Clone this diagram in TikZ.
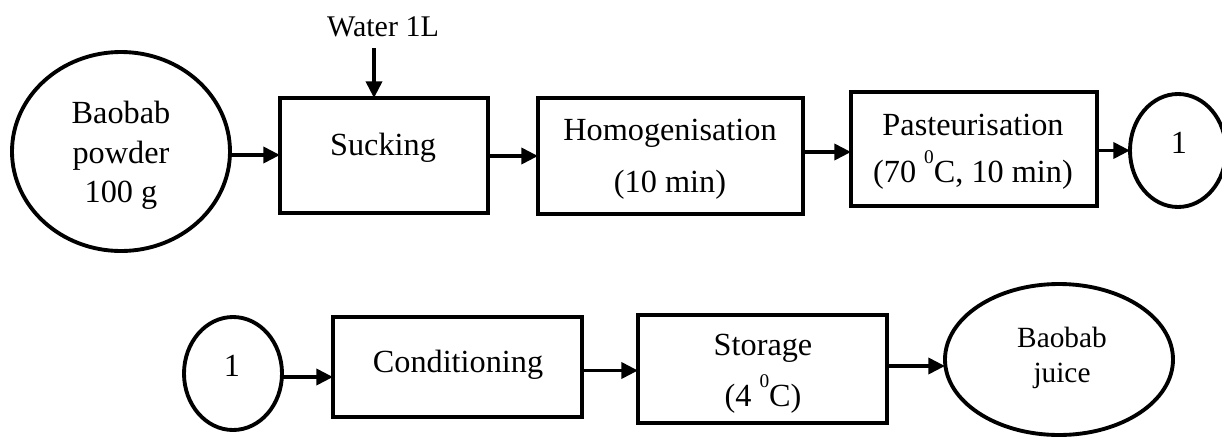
\documentclass[tikz,border=0pt]{standalone}
\usepackage{fontspec}
\setmainfont{Liberation Serif}
\usetikzlibrary{shapes.geometric,arrows.meta}
% raised "0" used for the degree sign
\newcommand\degz{\raisebox{0.58em}{\fontsize{14.5}{14.5}\selectfont 0}}
\begin{document}
\begin{tikzpicture}[x=0.75pt,y=-0.75pt,
  box/.style={draw,line width=2.9pt,rectangle,inner sep=0pt,outer sep=0pt},
  oval/.style={draw,line width=2.9pt,ellipse,inner sep=0pt,outer sep=0pt},
  lbl/.style={inner sep=0pt,anchor=base,font=\fontsize{24.2}{30}\selectfont},
  small/.style={lbl,font=\fontsize{22.5}{27}\selectfont},
  juicefont/.style={lbl,font=\fontsize{22}{26}\selectfont},
  arr/.style={line width=2.8pt,-{Triangle[length=12.5pt,width=12pt]}}]
\useasboundingbox (0,0) rectangle (1222,436);
\clip (0,0) rectangle (1222,436);

% ---- first line of the process ----
\node[oval,minimum width=218*0.75pt,minimum height=199*0.75pt] (powder) at (121,151.5) {};
\node[lbl] (powderA) at (121,123) {Baobab};
\node[lbl] (powderB) at (121,163) {powder};
\node[lbl] (powderC) at (121,202) {100 g};

\node[box,minimum width=208*0.75pt,minimum height=115*0.75pt] (suck) at (384,155.5) {};
\node[lbl] (suckT) at (383,155) {Sucking};

\node[small] (water) at (383,36) {Water 1L};
\coordinate (wtop) at (374,48);

\node[box,minimum width=265*0.75pt,minimum height=116*0.75pt] (homo) at (670.5,156) {};
\node[lbl] (homoA) at (670,140) {Homogenisation};
\node[lbl] (homoB) at (670,192) {(10 min)};

\node[box,minimum width=246*0.75pt,minimum height=114*0.75pt] (past) at (974,149) {};
\node[lbl] (pastA) at (973,135) {Pasteurisation};
\node[lbl] (pastB) at (973,182) {(70 \degz C, 10 min)};

\node[oval,minimum width=96*0.75pt,minimum height=113*0.75pt] (linkA) at (1178,150.5) {};
\node[lbl] (linkAT) at (1179,153) {1};

% ---- second line of the process ----
\node[oval,minimum width=98*0.75pt,minimum height=113*0.75pt] (linkB) at (233,373.5) {};
\node[lbl] (linkBT) at (232,376) {1};

\node[box,minimum width=249*0.75pt,minimum height=100*0.75pt] (cond) at (457.5,367) {};
\node[lbl] (condT) at (458,372) {Conditioning};

\node[box,minimum width=249*0.75pt,minimum height=108*0.75pt] (store) at (762.5,369) {};
\node[lbl] (storeA) at (763,355) {Storage};
\node[lbl] (storeB) at (763,406) {(4 \degz C)};

\node[oval,minimum width=228*0.75pt,minimum height=151*0.75pt] (juice) at (1059,359.5) {};
\node[juicefont] (juiceA) at (1062,347) {Baobab};
\node[juicefont] (juiceB) at (1062,382) {juice};

% ---- connectors ----
\draw[arr] (wtop) -- (wtop |- suck.north);
\draw[arr] (powder.east |- 0,155) -- (suck.west |- 0,155);
\draw[arr] (suck.east |- 0,156) -- (homo.west |- 0,156);
\draw[arr] (homo.east |- 0,152) -- (past.west |- 0,152);
\draw[arr] (past.east |- 0,150.5) -- (linkA.west |- 0,150.5);
\draw[arr] (linkB.east |- 0,377) -- (cond.west |- 0,377);
\draw[arr] (cond.east |- 0,370.5) -- (store.west |- 0,370.5);
\draw[arr] (store.east |- 0,366) -- (juice.west |- 0,366);
\end{tikzpicture}
\end{document}
